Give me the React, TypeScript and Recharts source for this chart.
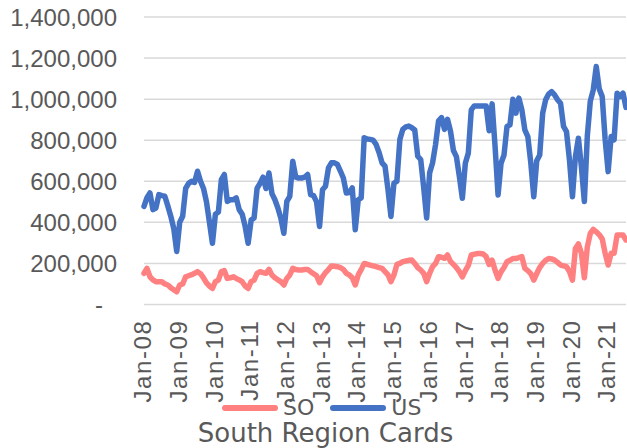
import React from 'react';
import { LineChart, Line, XAxis, YAxis, CartesianGrid, Legend } from 'recharts';

const MONTHS = ['Jan', 'Feb', 'Mar', 'Apr', 'May', 'Jun', 'Jul', 'Aug', 'Sep', 'Oct', 'Nov', 'Dec'];
const YEARS = ['08', '09', '10', '11', '12', '13', '14', '15', '16', '17', '18', '19', '20', '21'];

// values in thousands of cards
const SO_K = [
  152, 176, 135, 120, 111, 111, 111, 100, 95, 82, 72, 62,
  95, 100, 135, 140, 145, 152, 160, 150, 130, 105, 90, 78,
  111, 119, 160, 165, 127, 130, 135, 127, 120, 111, 90, 78,
  111, 119, 152, 160, 155, 152, 171, 144, 130, 120, 111, 95,
  127, 144, 176, 170, 168, 168, 170, 171, 160, 150, 140, 106,
  135, 155, 170, 188, 186, 184, 180, 170, 152, 144, 130, 95,
  144, 170, 200, 196, 192, 188, 184, 180, 176, 160, 145, 111,
  144, 195, 200, 209, 212, 215, 217, 200, 180, 168, 152, 111,
  152, 184, 200, 233, 230, 225, 241, 210, 195, 180, 160, 135,
  165, 190, 241, 245, 248, 248, 246, 233, 195, 216, 167, 127,
  159, 180, 208, 215, 224, 224, 228, 233, 176, 165, 150, 119,
  151, 180, 200, 215, 224, 222, 216, 205, 192, 188, 184, 160,
  119, 273, 295, 250, 130, 280, 346, 366, 354, 340, 320, 249,
  192, 249, 249, 338, 338, 338, 314,
];

const US_K = [
  478, 520, 543, 462, 470, 535, 530, 527, 480, 430, 370, 258,
  400, 430, 565, 590, 600, 595, 649, 600, 565, 500, 400, 298,
  440, 450, 608, 633, 502, 510, 510, 519, 462, 440, 380, 298,
  411, 421, 565, 590, 620, 565, 640, 540, 510, 470, 420, 347,
  502, 527, 698, 620, 616, 616, 620, 633, 535, 530, 500, 380,
  559, 576, 665, 690, 690, 682, 650, 616, 543, 545, 568, 364,
  510, 519, 812, 806, 804, 800, 780, 740, 690, 674, 560, 429,
  590, 600, 804, 853, 865, 869, 861, 850, 722, 706, 570, 421,
  641, 690, 780, 894, 910, 853, 902, 845, 750, 720, 623, 517,
  688, 737, 948, 967, 967, 967, 967, 967, 846, 977, 769, 533,
  688, 728, 867, 875, 1000, 932, 1005, 948, 850, 818, 690, 525,
  700, 728, 932, 997, 1025, 1037, 1021, 997, 980, 867, 842, 704,
  525, 720, 810, 672, 501, 820, 990, 1045, 1159, 1050, 1013, 802,
  647, 818, 802, 1029, 1013, 1029, 960,
];

const Y_TICKS = [0, 200000, 400000, 600000, 800000, 1000000, 1200000, 1400000];

const SO_COLOR = '#FF8080';
const US_COLOR = '#4472C4';
const TEXT_COLOR = '#595959';
const TITLE = 'South Region Cards';

const categories = YEARS.flatMap((y) => MONTHS.map((m) => `${m}-${y}`)).slice(0, US_K.length);
const yearTicks = categories.filter((c) => c.startsWith('Jan'));
const data = categories.map((month, i) => ({ month, SO: SO_K[i] * 1000, US: US_K[i] * 1000 }));

const YTick = (props: any) => {
  const { x, y, payload } = props;
  const v = payload.value;
  return (
    <text
      x={v === 0 ? x - 14 : x}
      y={y}
      dy="0.36em"
      textAnchor="end"
      fill={TEXT_COLOR}
      fontSize={24}
      fontFamily="'Liberation Sans', Arial, sans-serif"
    >
      {v === 0 ? '-' : Number(v).toLocaleString('en-US')}
    </text>
  );
};

const XTick = (props: any) => {
  const { x, y, payload } = props;
  return (
    <text
      x={x}
      y={y}
      transform={`rotate(-90, ${x}, ${y})`}
      textAnchor="end"
      dy="0.3em"
      fill={TEXT_COLOR}
      fontSize={24}
      letterSpacing={1.6}
      fontFamily="'Liberation Sans', Arial, sans-serif"
    >
      {payload.value}
    </text>
  );
};

const LegendContent = () => {
  const item = (label: string, color: string, gapAfter: number) => (
    <div style={{ display: 'flex', alignItems: 'center', marginRight: gapAfter }}>
      <svg width={56} height={8} style={{ display: 'block', marginRight: 5, flex: '0 0 auto' }}>
        <line x1={3} y1={4} x2={53} y2={4} stroke={color} strokeWidth={6} strokeLinecap="round" />
      </svg>
      <span style={{ display: 'block', lineHeight: '27px' }}>{label}</span>
    </div>
  );
  return (
    <div style={{ width: 627, fontFamily: "'DejaVu Sans', sans-serif", color: TEXT_COLOR }}>
      <div style={{ display: 'flex', alignItems: 'center', height: 27, paddingLeft: 222, fontSize: 22 }}>
        {item('SO', SO_COLOR, 16)}
        {item('US', US_COLOR, 0)}
      </div>
      <div style={{ textAlign: 'center', paddingLeft: 24, fontSize: 26, lineHeight: '24px' }}>{TITLE}</div>
    </div>
  );
};

export default function App() {
  return (
    <div style={{ position: 'absolute', left: 0, top: 0, width: 627, height: 448, background: '#fff' }}>
      <LineChart width={627} height={448} data={data} margin={{ top: 17, right: 1, left: 0, bottom: 0 }}>
        <CartesianGrid vertical={false} stroke="#D9D9D9" strokeWidth={1.5} />
        <XAxis
          dataKey="month"
          ticks={yearTicks}
          interval={0}
          height={143.5}
          axisLine={false}
          tickLine={false}
          tickSize={0}
          tickMargin={15}
          tick={<XTick />}
        />
        <YAxis
          domain={[0, 1400000]}
          ticks={Y_TICKS}
          width={144}
          axisLine={false}
          tickLine={false}
          tickSize={0}
          tickMargin={27}
          tick={<YTick />}
        />
        <Legend
          verticalAlign="middle"
          align="center"
          layout="horizontal"
          wrapperStyle={{ top: 394, left: 0, width: 627 }}
          content={<LegendContent />}
        />
        <Line
          type="linear"
          dataKey="SO"
          stroke={SO_COLOR}
          strokeWidth={5.5}
          dot={false}
          strokeLinejoin="round"
          strokeLinecap="round"
          isAnimationActive={false}
        />
        <Line
          type="linear"
          dataKey="US"
          stroke={US_COLOR}
          strokeWidth={5.5}
          dot={false}
          strokeLinejoin="round"
          strokeLinecap="round"
          isAnimationActive={false}
        />
      </LineChart>
    </div>
  );
}
